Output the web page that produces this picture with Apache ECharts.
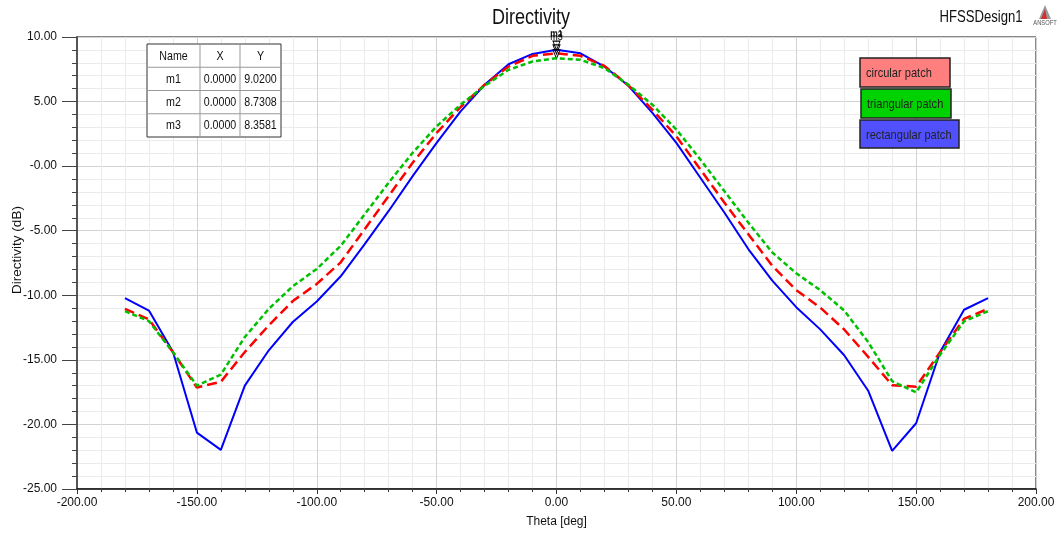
<!DOCTYPE html>
<html>
<head>
<meta charset="utf-8">
<script src="https://cdn.jsdelivr.net/npm/echarts@6/dist/echarts.min.js"></script>
<style>
html,body{margin:0;padding:0;background:#fff;}
#chart{width:1060px;height:533px;}
</style>
</head>
<body>
<div id="chart"></div>
<script>
// ---- data ----
const theta = [-180,-170,-160,-150,-140,-130,-120,-110,-100,-90,-80,-70,-60,-50,-40,-30,-20,-10,0,10,20,30,40,50,60,70,80,90,100,110,120,130,140,150,160,170,180];
const circularPatch = [-11.05,-11.87,-14.4,-17.14,-16.7,-14.39,-12.33,-10.45,-9.12,-7.45,-4.88,-2.31,0.26,2.57,4.58,6.3,7.71,8.54,8.73,8.54,7.76,6.25,4.37,2.31,-0.25,-2.82,-5.27,-7.71,-9.6,-10.95,-12.65,-14.77,-16.96,-17.08,-14.4,-11.82,-11.05];
const triangularPatch = [-11.23,-12.0,-14.4,-17.0,-16.14,-13.23,-11.05,-9.3,-7.96,-6.17,-3.72,-1.28,1.03,3.09,4.76,6.22,7.46,8.10,8.36,8.23,7.59,6.30,4.76,2.83,0.52,-1.93,-4.37,-6.68,-8.3,-9.6,-11.18,-13.62,-16.65,-17.52,-14.6,-12.02,-11.23];
const rectangularPatch = [-10.22,-11.18,-14.37,-20.63,-21.97,-17.0,-14.26,-12.07,-10.48,-8.53,-6.04,-3.47,-0.77,1.80,4.24,6.30,7.89,8.69,9.02,8.74,7.71,6.22,4.12,1.80,-0.90,-3.59,-6.42,-8.86,-10.92,-12.64,-14.64,-17.39,-22.05,-19.91,-14.39,-11.12,-10.22];
const seriesNames = ['circular patch','triangular patch','rectangular patch'];
const markerNames = ['m1','m2','m3'];
const markerX = [0.0000, 0.0000, 0.0000];
const markerY = [9.0200, 8.7308, 8.3581];
const xTicks = {min:-200, max:200, interval:50};
const yTicks = {min:-25, max:10, interval:5};

// ---- build ----
const pair = (vals) => theta.map((t,i)=>[t, vals[i]]);
const sans = "'Liberation Sans',Arial,sans-serif";
const SQ = 0.82; // horizontal condensing for narrow text

function mk(idx, dist){
  return {
    symbol:'triangle', symbolRotate:180, symbolSize:[7,9], symbolOffset:[0,-4],
    itemStyle:{color:'rgba(0,0,0,0)', borderColor:'#000', borderWidth:1},
    label:{show:true, formatter:markerNames[idx], position:'top', distance:dist, color:'#000', fontSize:9, fontFamily:sans},
    data:[{coord:[markerX[idx], markerY[idx]]}]
  };
}

const chart = echarts.init(document.getElementById('chart'), null, {renderer:'canvas'});

// marker table
const tblX = 147, tblY = 44, colW = [53,40,41], rowH = 23.25;
const tblW = colW[0]+colW[1]+colW[2];
const tblEls = [];
tblEls.push({type:'rect', shape:{x:tblX, y:tblY, width:tblW, height:rowH*4}, style:{fill:'#fff', stroke:'#333', lineWidth:1}, z:100});
const rows = [['Name','X','Y']].concat(markerNames.map((n,i)=>[n, markerX[i].toFixed(4), markerY[i].toFixed(4)]));
rows.forEach((r,ri)=>{
  let cx = tblX;
  r.forEach((c,ci)=>{
    tblEls.push({type:'text', x:cx+colW[ci]/2, y:tblY+rowH*ri+rowH/2+0.5, scaleX:SQ, style:{text:c, fill:'#111', font:'13px '+sans, align:'center', verticalAlign:'middle'}, z:101});
    cx += colW[ci];
  });
  if(ri>0) tblEls.push({type:'line', shape:{x1:tblX, y1:tblY+rowH*ri, x2:tblX+tblW, y2:tblY+rowH*ri}, style:{stroke:'#999', lineWidth:1}, z:101});
});
tblEls.push({type:'line', shape:{x1:tblX+colW[0], y1:tblY, x2:tblX+colW[0], y2:tblY+rowH*4}, style:{stroke:'#999', lineWidth:1}, z:101});
tblEls.push({type:'line', shape:{x1:tblX+colW[0]+colW[1], y1:tblY, x2:tblX+colW[0]+colW[1], y2:tblY+rowH*4}, style:{stroke:'#999', lineWidth:1}, z:101});

// legend boxes
const legBoxes = [
  {x:860, y:58, w:90, h:29, fill:'#ff7f7f'},
  {x:861, y:89, w:90, h:29, fill:'#00d200'},
  {x:860, y:120, w:99, h:28, fill:'#5050ff'}
];
const legEls = [];
legBoxes.forEach((b,i)=>{
  legEls.push({type:'rect', shape:{x:b.x, y:b.y, width:b.w, height:b.h}, style:{fill:b.fill, stroke:'#222', lineWidth:1.5}, z:100});
  legEls.push({type:'text', x:b.x+6, y:b.y+b.h/2+1, scaleX:SQ, style:{text:seriesNames[i], fill:'#222', font:'13.5px '+sans, verticalAlign:'middle'}, z:101});
});

const option = {
  animation:false,
  backgroundColor:'#fff',
  grid:{left:77, right:24, top:37, bottom:42, show:true, borderColor:'#111', borderWidth:1, backgroundColor:'transparent'},
  xAxis:{
    type:'value', min:xTicks.min, max:xTicks.max, interval:xTicks.interval,
    name:'Theta [deg]', nameLocation:'middle', nameGap:27,
    nameTextStyle:{fontFamily:sans, fontSize:12, color:'#111'},
    axisLine:{show:true, onZero:false, lineStyle:{color:'#111', width:1.5}},
    axisTick:{show:true, length:5, lineStyle:{color:'#333'}},
    minorTick:{show:true, splitNumber:5, length:3, lineStyle:{color:'#333'}},
    axisLabel:{formatter:(v)=>v.toFixed(2), fontFamily:sans, fontSize:12, color:'#111', margin:8},
    splitLine:{show:true, lineStyle:{color:'#d2d2d2', width:1}},
    minorSplitLine:{show:true, lineStyle:{color:'#ebebeb', width:1}}
  },
  yAxis:{
    type:'value', min:yTicks.min, max:yTicks.max, interval:yTicks.interval,
    axisLine:{show:true, onZero:false, lineStyle:{color:'#555', width:2}},
    axisTick:{show:true, length:15, lineStyle:{color:'#444'}},
    minorTick:{show:true, splitNumber:5, length:5, lineStyle:{color:'#444'}},
    axisLabel:{formatter:(v)=> (v===0 ? '-0.00' : v.toFixed(2)), fontFamily:sans, fontSize:12, color:'#111', margin:20},
    splitLine:{show:true, lineStyle:{color:'#d2d2d2', width:1}},
    minorSplitLine:{show:true, lineStyle:{color:'#ebebeb', width:1}}
  },
  series:[
    {name:seriesNames[2], type:'line', data:pair(rectangularPatch), showSymbol:false, symbol:'none', lineStyle:{color:'#0000ff', width:2}, z:3, markPoint:mk(0,3)},
    {name:seriesNames[0], type:'line', data:pair(circularPatch), showSymbol:false, symbol:'none', lineStyle:{color:'#ff0000', width:2.5, type:[10,5]}, z:4, markPoint:mk(1,5)},
    {name:seriesNames[1], type:'line', data:pair(triangularPatch), showSymbol:false, symbol:'none', lineStyle:{color:'#00c000', width:2.5, type:[5,3]}, z:5, markPoint:mk(2,7)}
  ],
  graphic:[
    {type:'group', children:tblEls},
    {type:'group', children:legEls},
    {type:'text', x:531, y:18, scaleX:SQ, style:{text:'Directivity', fill:'#111', font:'22px '+sans, align:'center', verticalAlign:'middle'}},
    {type:'text', x:17, y:250, rotation:Math.PI/2, style:{text:'Directivity (dB)', fill:'#111', font:'13.5px '+sans, align:'center', verticalAlign:'middle'}},
    {type:'text', x:981, y:18, scaleX:SQ, style:{text:'HFSSDesign1', fill:'#111', font:'16px '+sans, align:'center', verticalAlign:'middle'}},
    {type:'polygon', shape:{points:[[1045,5],[1039,19],[1051,19]]}, style:{fill:'#999'}},
    {type:'polygon', shape:{points:[[1045,9],[1041,19],[1047,19]]}, style:{fill:'#d03030'}},
    {type:'text', x:1045, y:23, scaleX:SQ, style:{text:'ANSOFT', fill:'#555', font:'7px '+sans, align:'center', verticalAlign:'middle'}}
  ]
};
chart.setOption(option);
</script>
</body>
</html>
